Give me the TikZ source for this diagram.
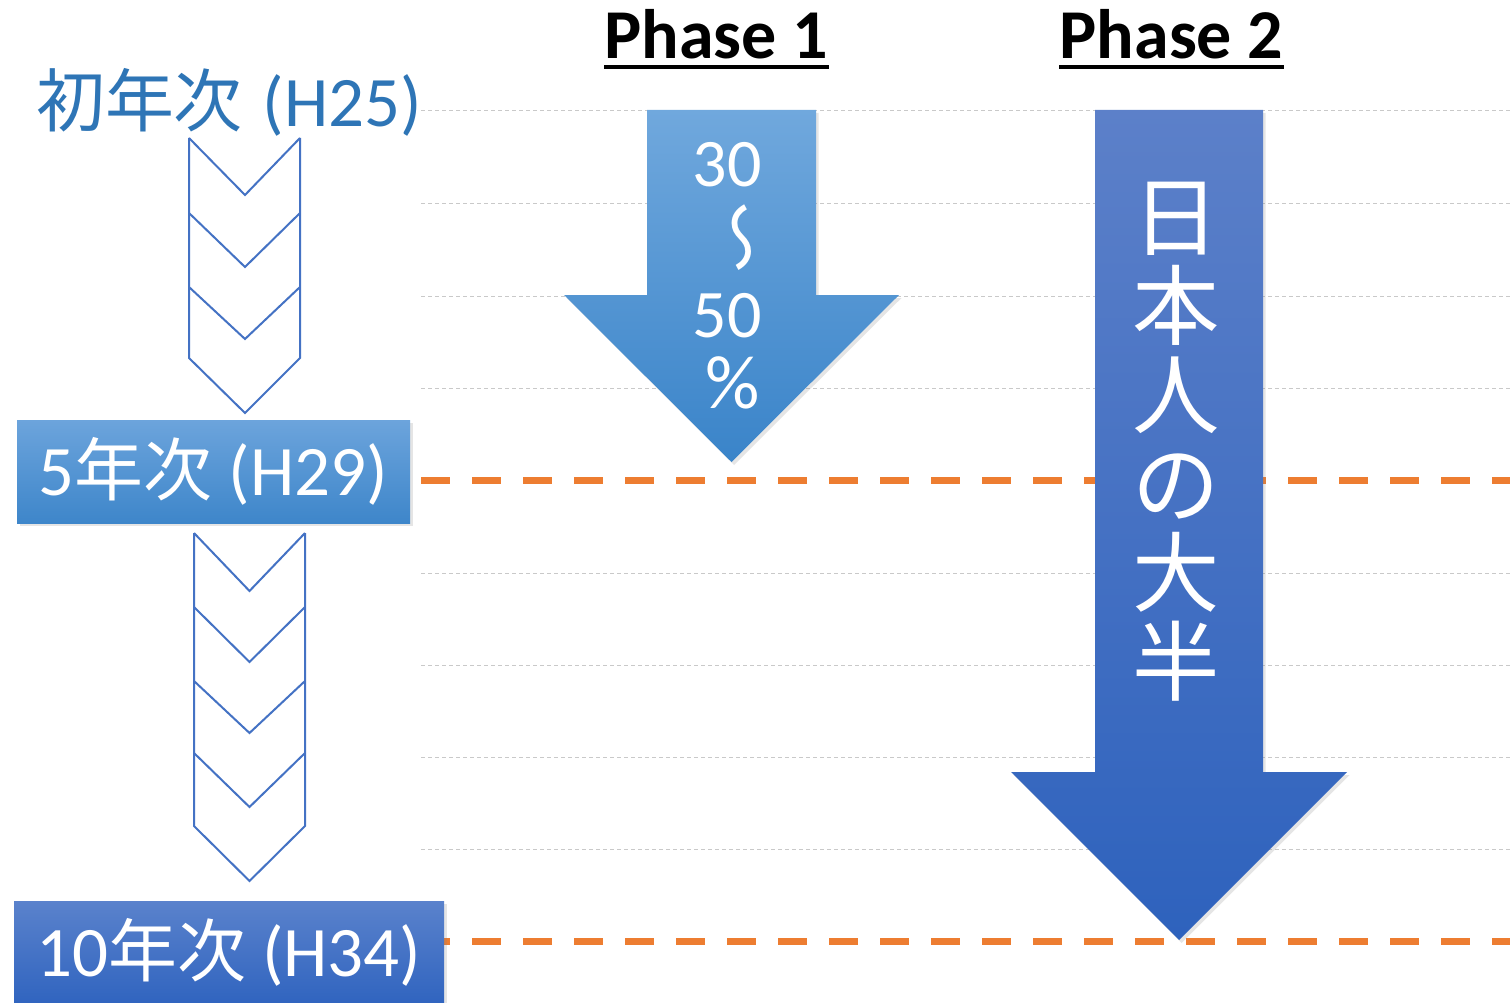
\documentclass[tikz,border=0pt]{standalone}
\usepackage{fontspec}
\usepackage{graphicx}
\setmainfont{Carlito}
\newfontfamily\jp{Noto Sans CJK JP}[Scale=0.97]
\usetikzlibrary{shadows}
\definecolor{titleblue}{HTML}{2E75B6}
\definecolor{chevblue}{HTML}{4472C4}
\definecolor{gridgray}{HTML}{C9C9C9}
\definecolor{accentorange}{HTML}{ED7D31}
\definecolor{boxAtop}{HTML}{6CA4DC}
\definecolor{boxAbot}{HTML}{3E86CA}
\definecolor{boxBtop}{HTML}{5A82CC}
\definecolor{boxBbot}{HTML}{3064BF}
\definecolor{arrAtop}{HTML}{70A8DD}
\definecolor{arrAbot}{HTML}{3A84C9}
\definecolor{arrBtop}{HTML}{5C80C9}
\definecolor{arrBbot}{HTML}{2E62BD}
\begin{document}
\begin{tikzpicture}[x=1pt,y=-1pt,
  gridline/.style={draw=gridgray, line width=1pt, dash pattern=on 4pt off 3pt},
  milestone/.style={draw=accentorange, line width=7pt, dash pattern=on 29pt off 22pt},
  chevline/.style={draw=chevblue, line width=2pt, line join=miter},
  softshadow/.style={drop shadow={opacity=0.2, shadow xshift=2.5pt, shadow yshift=-3pt}},
  phase/.style={font={\fontsize{70}{70}\selectfont\bfseries}, inner sep=0pt, text=black},
  yearbox/.style={minimum width=393pt, minimum height=103pt, inner sep=0pt, text=white,
     font={\fontsize{71}{71}\selectfont}, softshadow},
  arrtext/.style={text=white, inner sep=0pt, font={\fontsize{68}{68}\selectfont}},
]
\useasboundingbox[fill=white] (0,0) rectangle (1510,1003);

% grid lines
\foreach \yy in {111,204,296,388,573,665,757,849}
  \draw[gridline] (421,\yy) -- (1510,\yy);
% milestone lines
\draw[milestone] (421,480) -- (1510,480);
\draw[milestone] (421,941) -- (1510,941);

% Phase titles
\node[phase, anchor=base] (ph1) at (716.5,59) {Phase 1};
\node[phase, anchor=base] (ph2) at (1171.5,59) {Phase 2};
\draw[line width=3.5pt] ([yshift=-8pt]ph1.base west) -- ([yshift=-8pt]ph1.base east);
\draw[line width=3.5pt] ([yshift=-8pt]ph2.base west) -- ([yshift=-8pt]ph2.base east);

% Phase 1 arrow
\path[top color=arrAtop, bottom color=arrAbot, softshadow]
  (647,110) -- (816,110) -- (816,295) -- (899,295) -- (731.5,462) -- (564,295) -- (647,295) -- cycle;
\node[arrtext, anchor=base] (p1a) at (727,187) {30};
\node[arrtext, font={\fontsize{74}{74}\selectfont}] (p1b) at (733,238) {\jp\rotatebox{-90}{\reflectbox{〜}}};
\node[arrtext, anchor=base] (p1c) at (727,337) {50};
\node[arrtext, anchor=base, font={\fontsize{76}{76}\selectfont}] (p1d) at (733,408) {\%};

% Phase 2 arrow
\path[top color=arrBtop, bottom color=arrBbot, softshadow]
  (1095,110) -- (1263,110) -- (1263,772) -- (1347,772) -- (1179,940) -- (1011,772) -- (1095,772) -- cycle;
\node[text=white, inner sep=0pt, align=center, font={\jp\fontsize{90}{89}\selectfont}] (p2t) at (1176,442)
  {日\\本\\人\\の\\大\\半};

% left labels
\node[inner sep=0pt, anchor=base west, text=titleblue, font={\fontsize{71}{71}\selectfont}] (y1) at (36,127)
  {{\jp 初年次}\hspace{4pt} (H25)};

% chevron stack 1
\draw[chevline] (189,138) -- (189,358) -- (245,413) -- (300,358) -- (300,138);
\draw[chevline] (189,138) -- (245,195) -- (300,138);
\draw[chevline] (189,213) -- (245,267) -- (300,213);
\draw[chevline] (189,287) -- (245,339) -- (300,287);

% chevron stack 2
\draw[chevline] (194,533) -- (194,826) -- (249.5,881) -- (305,826) -- (305,533);
\draw[chevline] (194,533) -- (249.5,591) -- (305,533);
\draw[chevline] (194,607) -- (249.5,662) -- (305,607);
\draw[chevline] (194,681) -- (249.5,733) -- (305,681);
\draw[chevline] (194,753) -- (249.5,807) -- (305,753);

% year boxes
\node[yearbox, top color=boxAtop, bottom color=boxAbot] (y5) at (213.5,471.5) {5{\jp 年次} (H29)};
\node[yearbox, minimum width=430pt, top color=boxBtop, bottom color=boxBbot] (y10) at (229,952.5) {10{\jp 年次} (H34)};
\end{tikzpicture}
\end{document}
